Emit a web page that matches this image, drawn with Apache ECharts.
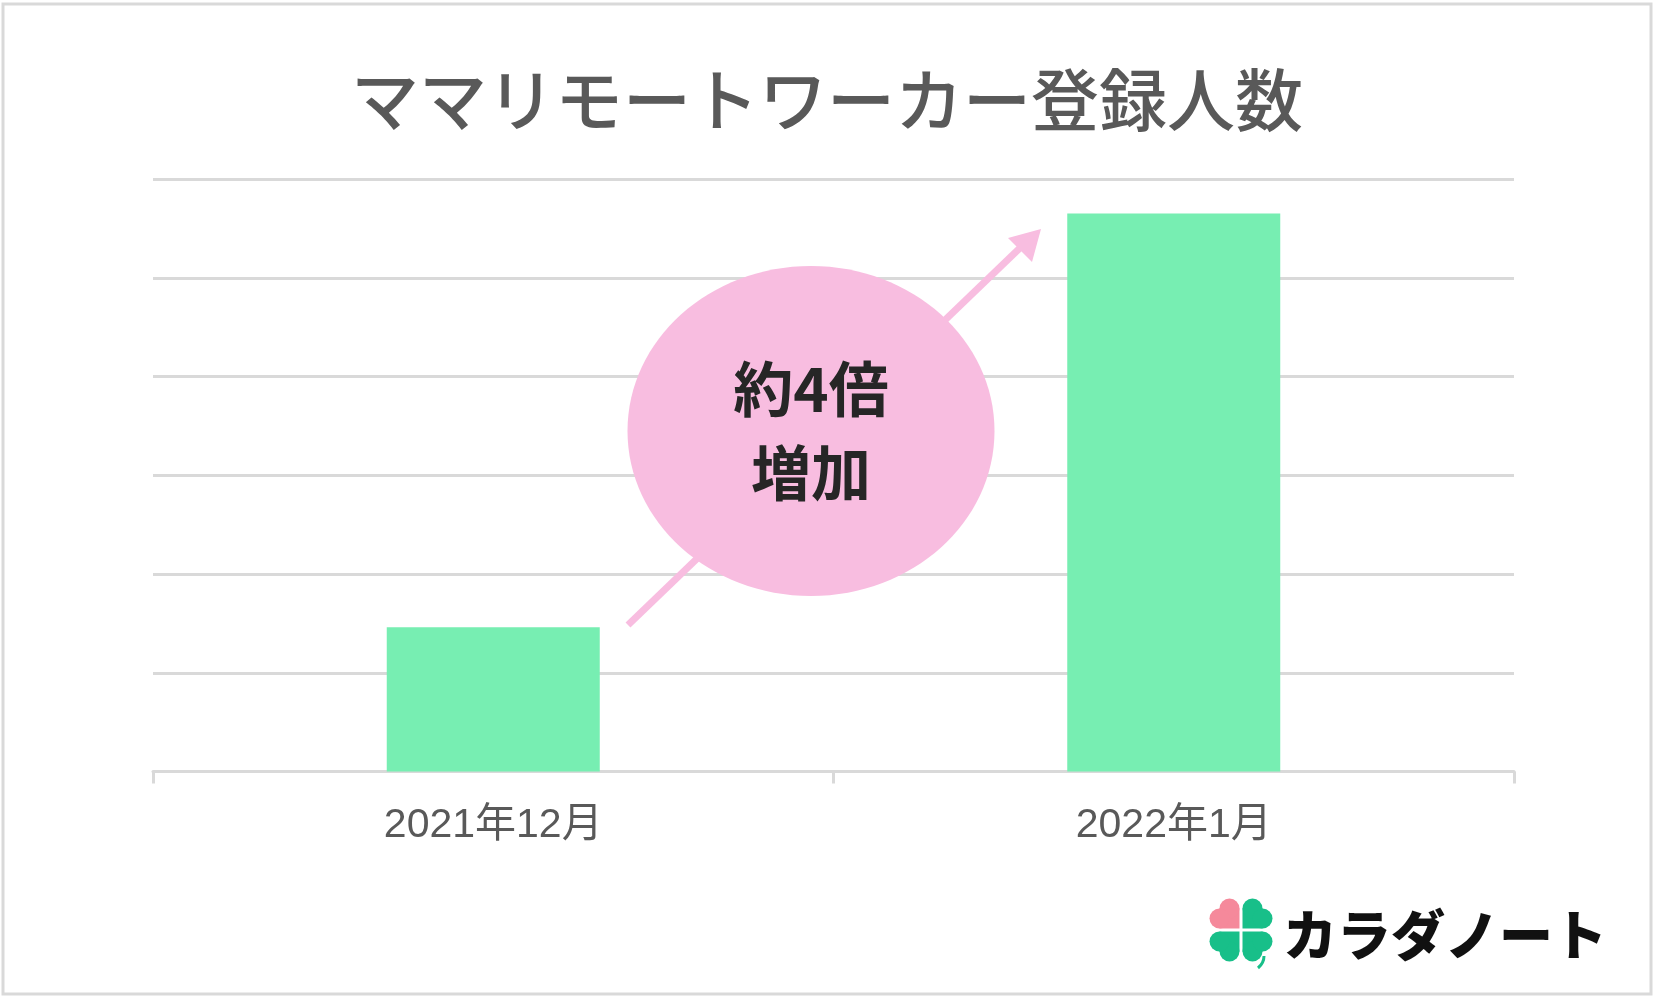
<!DOCTYPE html>
<html><head><meta charset="utf-8">
<script src="https://cdn.jsdelivr.net/npm/echarts@6/dist/echarts.min.js"></script>
<style>html,body{margin:0;padding:0;background:#fff}#c{width:1654px;height:999px}</style>
</head><body><div id="c"></div>
<script>
const titleText = 'ママリモートワーカー登録人数';
const categories = ['2021年12月', '2022年1月'];
const registrations = [1460, 5650];
const yTicks = { min: 0, max: 6000, interval: 1000 };
const bubbleText = '約4倍\n増加';
const logoText = 'カラダノート';

const chart = echarts.init(document.getElementById('c'), null, { renderer: 'canvas' });

function leaf(cx, cy, s, dx, dy, color) {
  const x0 = dx < 0 ? cx - s : cx;
  const y0 = dy < 0 ? cy - s : cy;
  const r = s / 2;
  const c1 = { cx: x0 + s / 2, cy: dy < 0 ? y0 : y0 + s };
  const c2 = { cx: dx < 0 ? x0 : x0 + s, cy: y0 + s / 2 };
  return [
    { type: 'rect', shape: { x: x0, y: y0, width: s, height: s }, style: { fill: color } },
    { type: 'circle', shape: { cx: c1.cx, cy: c1.cy, r: r }, style: { fill: color } },
    { type: 'circle', shape: { cx: c2.cx, cy: c2.cy, r: r }, style: { fill: color } }
  ];
}
const clx = 1241, cly = 930, ls = 20, g = 1.5;
const pink = '#f5899b', green = '#18bf89';
const cloverChildren = [].concat(
  leaf(clx - g, cly - g, ls, -1, -1, pink),
  leaf(clx + g, cly - g, ls, 1, -1, green),
  leaf(clx - g, cly + g, ls, -1, 1, green),
  leaf(clx + g, cly + g, ls, 1, 1, green),
  [{ type: 'bezierCurve', shape: { x1: 1264, y1: 956, x2: 1258, y2: 968, cpx1: 1264, cpy1: 963 },
     style: { stroke: green, lineWidth: 3, fill: null } }]
);

chart.setOption({
  backgroundColor: '#ffffff',
  animation: false,
  title: {
    text: titleText,
    left: 'center',
    top: 61,
    textStyle: { fontFamily: 'Noto Sans CJK JP', fontSize: 68, fontWeight: 500, color: '#595959' }
  },
  grid: { left: 153, right: 140, top: 179, bottom: 227.5, containLabel: false },
  xAxis: {
    type: 'category',
    data: categories,
    axisLine: { lineStyle: { color: '#d9d9d9', width: 3 } },
    axisTick: { show: true, length: 12, lineStyle: { color: '#d9d9d9', width: 3 } },
    axisLabel: { fontFamily: 'Liberation Sans, Noto Sans CJK JP', fontSize: 41, color: '#595959', margin: 34 }
  },
  yAxis: {
    type: 'value',
    min: yTicks.min, max: yTicks.max, interval: yTicks.interval,
    axisLabel: { show: false },
    axisLine: { show: false },
    axisTick: { show: false },
    splitLine: { lineStyle: { color: '#d9d9d9', width: 3 } }
  },
  series: [{
    type: 'bar',
    data: registrations,
    barWidth: '31.3%',
    itemStyle: { color: '#77eeb2' },
    z: 2
  }],
  graphic: [
    { type: 'rect', shape: { x: 3, y: 4, width: 1648, height: 990 }, style: { fill: null, stroke: '#d9d9d9', lineWidth: 3 }, z: 0 },
    { type: 'line', shape: { x1: 628, y1: 625, x2: 1022, y2: 246 }, style: { stroke: '#f8bde0', lineWidth: 7 }, z: 10 },
    { type: 'polygon', shape: { points: [[1041, 229], [1008, 238], [1032, 262]] }, style: { fill: '#f8bde0' }, z: 10 },
    { type: 'ellipse', shape: { cx: 811, cy: 431, rx: 183.5, ry: 165 }, style: { fill: '#f8bde0' }, z: 11 },
    { type: 'text', x: 811, y: 431, z: 12,
      style: { text: bubbleText, fontFamily: 'Noto Sans CJK JP', fontWeight: 'bold', fontSize: 60, lineHeight: 84,
               fill: '#262626', align: 'center', verticalAlign: 'middle' } },
    { type: 'group', z: 12, children: cloverChildren },
    { type: 'text', x: 1283, y: 935, z: 12,
      style: { text: logoText, fontFamily: 'Noto Sans CJK JP', fontWeight: 900, fontSize: 54,
               fill: '#111111', align: 'left', verticalAlign: 'middle' } }
  ]
});
</script></body></html>
